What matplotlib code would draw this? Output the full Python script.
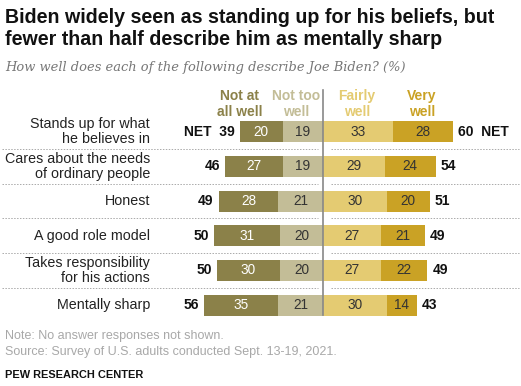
import matplotlib
matplotlib.use("Agg")
import matplotlib.pyplot as plt

categories = ["Stands up for what\nhe believes in", "Cares about the needs\nof ordinary people",
              "Honest", "A good role model", "Takes responsibility\nfor his actions", "Mentally sharp"]
not_at_all = [20, 27, 28, 31, 30, 35]
not_too = [19, 19, 21, 20, 20, 21]
fairly = [33, 29, 30, 27, 27, 30]
very = [28, 24, 20, 21, 22, 14]
net_neg = [39, 46, 49, 50, 50, 56]
net_pos = [60, 54, 51, 49, 49, 43]
headers = ["Not at\nall well", "Not too\nwell", "Fairly\nwell", "Very\nwell"]

c_naw = "#8b8149"
c_ntw = "#c3bd97"
c_fw = "#e4cb72"
c_vw = "#caa225"
hdr_cols = [c_naw, c_ntw, c_fw, c_vw]

W, H = 521, 386
fig = plt.figure(figsize=(W / 100, H / 100), dpi=100)
ax = fig.add_axes([0, 0, 1, 1])
ax.axis("off")
cx, sx = 323.0, 2.13
y0, sy = 131.7, 34.7
ax.set_xlim(-cx / sx, (W - cx) / sx)
ax.set_ylim((H - y0) / sy, -y0 / sy)

font = "Liberation Sans"
ys = list(range(len(categories)))
bh = 0.61
left1 = [-(a + b) for a, b in zip(not_at_all, not_too)]
left2 = [-b for b in not_too]
ax.barh(ys, not_at_all, left=left1, height=bh, color=c_naw)
ax.barh(ys, not_too, left=left2, height=bh, color=c_ntw)
ax.barh(ys, fairly, left=0, height=bh, color=c_fw)
ax.barh(ys, very, left=fairly, height=bh, color=c_vw)

fs = 9.8
for i in ys:
    ax.text(left1[i] + not_at_all[i] / 2, i, str(not_at_all[i]), ha="center", va="center",
            color="white", fontsize=fs, family=font)
    ax.text(left2[i] + not_too[i] / 2, i, str(not_too[i]), ha="center", va="center",
            color="#333333", fontsize=fs, family=font)
    ax.text(fairly[i] / 2, i, str(fairly[i]), ha="center", va="center",
            color="#333333", fontsize=fs, family=font)
    ax.text(fairly[i] + very[i] / 2, i, str(very[i]), ha="center", va="center",
            color="#333333", fontsize=fs, family=font)
    lab = ("NET  " if i == 0 else "") + str(net_neg[i])
    ax.text(left1[i] - 2.3, i, lab, ha="right", va="center", fontsize=10,
            fontweight="bold", color="#111111", family=font)
    lab = str(net_pos[i]) + ("  NET" if i == 0 else "")
    ax.text(fairly[i] + very[i] + 2.3, i, lab, ha="left", va="center", fontsize=10,
            fontweight="bold", color="#111111", family=font)
    ax.text((150 - cx) / sx, i, categories[i], ha="right", va="center", fontsize=10.3,
            color="#222222", family=font, linespacing=1.05)

for i in ys[:-1]:
    yy = i + 0.5
    ax.plot([(2 - cx) / sx, (318 - cx) / sx], [yy, yy], ls=(0, (1.5, 1.5)), lw=0.7, color="#aaaaaa")
    ax.plot([(331 - cx) / sx, (519 - cx) / sx], [yy, yy], ls=(0, (1.5, 1.5)), lw=0.7, color="#aaaaaa")

ax.plot([0, 0], [(90 - y0) / sy, (315 - y0) / sy], color="#888888", lw=1.2)

hx = [-39, -12.7, 16, 46.5]
for x, t, c in zip(hx, headers, hdr_cols):
    ax.text(x, (104 - y0) / sy, t, ha="center", va="center", fontsize=10, fontweight="bold",
            color=c, family=font, linespacing=1.1)

fig.text(5 / W, 1 - 8 / H, "Biden widely seen as standing up for his beliefs, but\nfewer than half describe him as mentally sharp",
         ha="left", va="top", fontsize=14.1, fontweight="bold", color="#111111", family=font,
         linespacing=1.22)
fig.text(5 / W, 1 - 68 / H, "How well does each of the following describe Joe Biden? (%)",
         ha="left", va="center", fontsize=9.4, style="italic", color="#777777", family="DejaVu Serif")
fig.text(5 / W, 1 - 336 / H, "Note: No answer responses not shown.", ha="left", va="center",
         fontsize=9.0, color="#a8a8a8", family=font)
fig.text(5 / W, 1 - 352 / H, "Source: Survey of U.S. adults conducted Sept. 13-19, 2021.", ha="left",
         va="center", fontsize=9.0, color="#a8a8a8", family=font)
fig.text(5 / W, 1 - 375 / H, "PEW RESEARCH CENTER", ha="left", va="center", fontsize=7.9,
         fontweight="bold", color="#111111", family=font)

fig.savefig("out.png", dpi=100)
